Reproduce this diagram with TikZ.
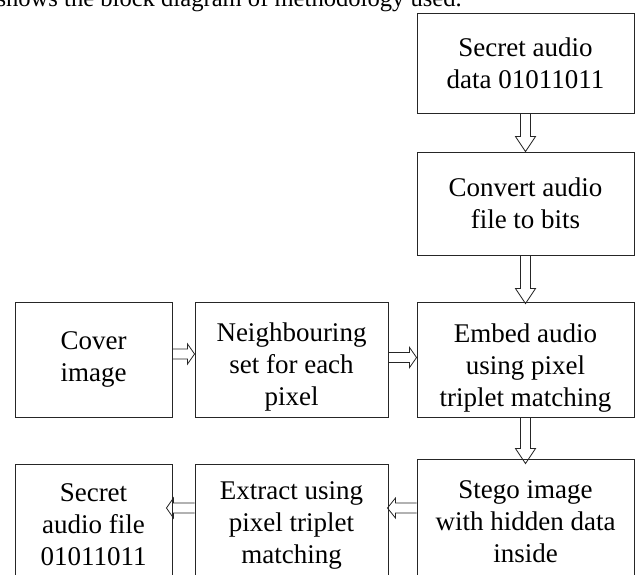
\documentclass[tikz,border=0pt]{standalone}
\usepackage{fontspec}
\setmainfont{Liberation Serif}
\usetikzlibrary{calc}
\tikzset{
  blk/.style={draw=black!85, line width=0.9pt, align=center, inner sep=0pt,
    font=\fontsize{27}{32}\selectfont},
  blktext/.style={align=center, inner sep=0pt, font=\fontsize{27}{32}\selectfont},
  blockarrow/.style={draw=black!85, line width=0.8pt, line join=miter},
  toptext/.style={font=\fontsize{24.6}{30}\selectfont, inner sep=0pt}
}
% vertical block arrow: start anchor, end anchor, tip overshoot
\newcommand{\varrowbox}[3]{%
  \draw[blockarrow] ($(#1)+(-5,0)$) -- ($(#2)+(-5,#3-15)$) -- ($(#2)+(-10,#3-15)$)
    -- ($(#2)+(0,#3)$) -- ($(#2)+(10,#3-15)$) -- ($(#2)+(5,#3-15)$) -- ($(#1)+(5,0)$);}
% horizontal block arrow: start coord, tip coord, head length, direction (+1 right, -1 left)
\newcommand{\harrowbox}[4]{%
  \draw[blockarrow] ($(#1)+(0,-5)$) -- ($(#2)+({-(#4)*(#3)},-5)$) -- ($(#2)+({-(#4)*(#3)},-10)$)
    -- (#2) -- ($(#2)+({-(#4)*(#3)},10)$) -- ($(#2)+({-(#4)*(#3)},5)$) -- ($(#1)+(0,5)$);}
\begin{document}
\begin{tikzpicture}[x=1pt, y=-1pt]
\useasboundingbox (0,0) rectangle (636,574);
\clip (0,0) rectangle (636,574);

\node[toptext, anchor=base east] (intro) at (462,6.5) {shows the block diagram of methodology used.};

\node[blk, minimum width=217pt, minimum height=100pt] (b1) at (525.5,63) {Secret audio\\data 01011011};
\node[blk, minimum width=217pt, minimum height=103pt] (b2) at (525.5,203.5) {Convert audio\\file to bits};
\node[blk, minimum width=217pt, minimum height=115pt] (b3) at (525.5,359.5) {};
\node[blktext] (b3text) at (525.5,368) {Embed audio\\using pixel\\triplet matching};
\node[blk, minimum width=157pt, minimum height=115pt] (cover) at (93.5,359.5) {Cover\\image};
\node[blk, minimum width=193pt, minimum height=115pt] (nb) at (291.5,359.5) {};
\node[blktext] (nbtext) at (291.5,367) {Neighbouring\\set for each\\pixel};
\node[blk, minimum width=217pt, minimum height=126pt] (stego) at (525.5,522) {Stego image\\with hidden data\\inside};
\node[blk, minimum width=193pt, minimum height=122pt] (extract) at (291.5,525) {Extract using\\pixel triplet\\matching};
\node[blk, minimum width=157pt, minimum height=122pt] (secret) at (93.5,525) {Secret\\audio file\\01011011};

\varrowbox{b1.south}{b2.north}{0}
\varrowbox{b2.south}{b3.north}{2}
\varrowbox{b3.south}{stego.north}{5}

\coordinate (h1s) at ($(cover.east)+(0,-5.5)$);
\coordinate (h1t) at ($(nb.west)+(0,-5.5)$);
\coordinate (h2s) at ($(nb.east)+(0,-2)$);
\coordinate (h2t) at ($(b3.west)+(0,-2)$);
\coordinate (h3s) at ($(stego.west)+(0,-14)$);
\coordinate (h3t) at ($(extract.east)+(-1,-17)$);
\coordinate (h4s) at ($(extract.west)+(0,-17)$);
\coordinate (h4t) at ($(secret.east)+(-6,-17)$);

\harrowbox{h1s}{h1t}{7}{1}
\harrowbox{h2s}{h2t}{7}{1}
\harrowbox{h3s}{h3t}{8}{-1}
\harrowbox{h4s}{h4t}{7}{-1}
\end{tikzpicture}
\end{document}
